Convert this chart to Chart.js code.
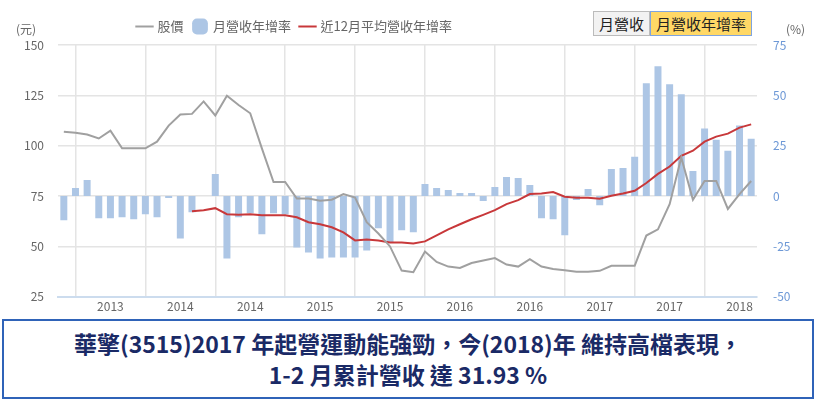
<!DOCTYPE html>
<html>
<head>
<meta charset="utf-8">
<script src="https://cdn.jsdelivr.net/npm/chart.js@4"></script>
<style>
  body { margin: 0; background: #fff; font-family: "Noto Sans CJK TC", sans-serif; }
  #wrap { position: relative; width: 820px; height: 406px; }
  #box { position: absolute; left: 0; top: 0; width: 820px; height: 318px; }
  .unit { position: absolute; top: 20px; font-size: 12px; color: #666; }
  #btns { position: absolute; left: 593px; top: 11px; display: flex; font-size: 15px; }
  #btns span { border: 1px solid #bbb; padding: 1px 5px; background: #f2f2f2; color: #222; }
  #btns span.on { background: #ffd866; border-color: #7fa4e0; }
  #title { position: absolute; left: 2px; top: 319px; width: 812px; height: 80px; border: 2px solid #2f63b8;
           text-align: center; font-weight: bold; font-size: 23px; line-height: 31px; color: #1a2a66; padding-top: 7px; box-sizing: border-box; }
</style>
</head>
<body>
<div id="wrap">
  <div id="box"><canvas id="c"></canvas></div>
  <div class="unit" style="left:16px">(元)</div>
  <div class="unit" style="left:786px">(%)</div>
  <div id="btns"><span>月營收</span><span class="on">月營收年增率</span></div>
  <div id="title">華擎(3515)2017 年起營運動能強勁，今(2018)年 維持高檔表現，<br>1-2 月累計營收 達 31.93 %</div>
</div>
<script>
// 60 個月，每 6 個月一個刻度
const tickLabels = ['2013', '2014', '2014', '2015', '2015', '2016', '2016', '2017', '2017', '2018'];
const months = [];
for (let i = 0; i < 60; i++) months.push(i);

const yoy = [-12, 4, 8, -11, -11, -10.5, -11.5, -9, -10.5, -1, -21, -8, 0, 11, -31, -10.5, -8.5, -19, -8.5, -9,
  -25.5, -28, -31, -30.5, -30.5, -30.5, -27, -16, -23, -17, -18, 6, 4, 3, 1.5, 1.5, -2.5, 4.5, 9.5, 9,
  5.5, -11, -11.5, -19.5, -2, 3.5, -4.5, 13.5, 14, 19.5, 56, 64.5, 55.5, 50.5, 12.5, 33.5, 28, 22.5, 35, 28.5];

const avg12 = [null, null, null, null, null, null, null, null, null, null, null, -7.5, -7, -6, -9, -9.3, -9, -9.5, -9.5, -9.5,
  -10.5, -13, -14, -15.5, -18, -22, -21.5, -22, -23, -23, -23.5, -22.5, -19.5, -16.5, -14, -11.5, -9.3, -7, -4, -2,
  1, 1.3, 2, -0.3, -0.8, -0.8, -1.3, 0.2, 1.3, 2.6, 6.5, 11, 14.7, 20, 22.5, 27, 29.5, 31, 34, 35.6];

const price = [106.9, 106.4, 105.6, 103.6, 107.5, 98.7, 98.7, 98.7, 102, 110, 115.5, 115.8, 122, 115, 124.8, 120.2, 116.1, 98.7, 82, 82,
  73.8, 73.8, 72.7, 73.2, 76, 74.3, 62, 56.4, 50, 38, 37.2, 47.5, 42.3, 40, 39.3, 41.8, 43, 44.2, 41, 40,
  43.7, 40, 38.8, 38.2, 37.4, 37.4, 37.9, 40.4, 40.4, 40.4, 55.4, 58.5, 71, 94.2, 73.2, 82.5, 82.5, 68.6, 76, 82.5];

const font = { family: 'Noto Sans CJK TC', size: 12 };

new Chart(document.getElementById('c'), {
  data: {
    labels: months,
    datasets: [
      { type: 'line', label: '股價', data: price, yAxisID: 'yL', borderColor: '#a0a0a0', borderWidth: 2,
        pointRadius: 0, tension: 0, order: 1 },
      { type: 'bar', label: '月營收年增率', data: yoy, yAxisID: 'yR', backgroundColor: '#adc6e5',
        barPercentage: 0.6, categoryPercentage: 1, order: 3 },
      { type: 'line', label: '近12月平均營收年增率', data: avg12, yAxisID: 'yR', borderColor: '#c8383a', borderWidth: 2,
        pointRadius: 0, tension: 0, order: 2 }
    ]
  },
  options: {
    responsive: true,
    maintainAspectRatio: false,
    animation: false,
    layout: { padding: { left: 0, right: 0, top: 0, bottom: 0 } },
    plugins: {
      tooltip: { enabled: false },
      legend: {
        align: 'start',
        labels: {
          usePointStyle: true, font: { family: 'Noto Sans CJK TC', size: 13 }, color: '#666', padding: 10,
          generateLabels: chart => chart.data.datasets.map((d, i) => ({
            text: d.label, fillStyle: d.type === 'bar' ? d.backgroundColor : d.borderColor,
            strokeStyle: d.type === 'bar' ? d.backgroundColor : d.borderColor,
            lineWidth: d.type === 'bar' ? 0 : 2, pointStyle: d.type === 'bar' ? 'rectRounded' : 'line',
            fontColor: '#666', datasetIndex: i
          }))
        }
      }
    },
    scales: {
      x: {
        offset: true,
        grid: { color: '#e4e4e4', lineWidth: 1.5, drawTicks: false },
        border: { color: '#ccdcee', width: 2 },
        ticks: {
          autoSkip: false, maxRotation: 0, color: '#666', font, padding: 2,
          callback: (v, i) => (i >= 4 && (i - 4) % 6 === 0) ? tickLabels[(i - 4) / 6] : null
        }
      },
      yL: {
        position: 'left', min: 25, max: 150,
        afterFit: s => { s.width = 58; },
        ticks: { stepSize: 25, color: '#666', font, padding: 14 },
        grid: { color: '#e4e4e4', lineWidth: 1.5, drawTicks: false },
        border: { display: false }
      },
      yR: {
        position: 'right', min: -50, max: 75,
        afterFit: s => { s.width = 63; },
        ticks: { stepSize: 25, color: '#6d98d6', font, padding: 8 },
        grid: { display: false },
        border: { display: false }
      }
    }
  },
  plugins: [{
    id: 'legendPos',
    beforeInit(chart) {
      const fit = chart.legend.fit;
      chart.legend.fit = function () { fit.bind(chart.legend)(); this.height = 45; };
    },
    afterLayout(chart) {
      chart.legend.left = 128;
      chart.legend.top = 10;
    }
  }]
});
</script>
</body>
</html>
